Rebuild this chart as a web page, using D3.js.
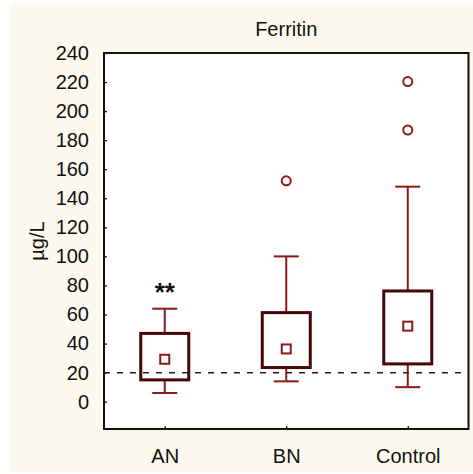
<!DOCTYPE html>
<html>
<head>
<meta charset="utf-8">
<script src="https://cdn.jsdelivr.net/npm/d3@7"></script>
<style>
	body { margin: 0; background: #fff; }
	svg text { font-family: "Liberation Sans", Arial, sans-serif; fill: #111; }
</style>
</head>
<body>
<svg id="chart"></svg>
<script>
// values
const groups = ["AN", "BN", "Control"];
const q1 = [15, 23.5, 26];
const q3 = [47, 61.3, 76.2];
const means = [29.2, 36.3, 52];
const whiskerLow = [6, 14, 10];
const whiskerHigh = [64, 100, 148];
const outliers = [[], [152], [187, 220.3]];
const yTicks = [0, 20, 40, 60, 80, 100, 120, 140, 160, 180, 200, 220, 240];
const refValue = 20;
const marks = ["**", "", ""];
const markValue = 80.5;

let w = 473, h = 474;
let plotLeft = 104, plotRight = 468.5, plotTop = 53, plotBottom = 429;

let chart = d3.select('#chart')
	.attr('width', w)
	.attr('height', h);

// beige frame
chart.append('rect')
	.attr('x', 10).attr('y', 4)
	.attr('width', 463).attr('height', 469)
	.attr('fill', '#fdf9ef');

chart.append('rect')
	.attr('x', plotLeft).attr('y', plotTop)
	.attr('width', plotRight - plotLeft).attr('height', plotBottom - plotTop)
	.attr('fill', '#fff');

let xScale = d3.scalePoint()
	.domain(groups)
	.range([plotLeft, plotRight])
	.padding(0.5);

let yScale = d3.scaleLinear()
	.domain([-18.8, 240])
	.range([plotBottom, plotTop]);

// AXES
let yAxis = d3.axisLeft(yScale).tickValues(yTicks).tickSize(-3).tickPadding(15);
let xAxis = d3.axisBottom(xScale).tickSize(-3).tickPadding(16);

let yAxisGroup = chart.append('g')
	.attr('transform', `translate(${plotLeft},0)`)
	.call(yAxis);

let xAxisGroup = chart.append('g')
	.attr('transform', `translate(0,${plotBottom})`)
	.call(xAxis);

[yAxisGroup, xAxisGroup].forEach(g => {
	g.select('.domain').remove();
	g.selectAll('line').attr('stroke', '#111').attr('stroke-width', 1.3);
	g.selectAll('text').style('font-size', '20px').attr('fill', '#111');
});
xAxisGroup.selectAll('text').attr('dy', '0.9em');

// frame
chart.append('rect')
	.attr('x', plotLeft).attr('y', plotTop)
	.attr('width', plotRight - plotLeft).attr('height', plotBottom - plotTop)
	.attr('fill', 'none')
	.attr('stroke', '#111')
	.attr('stroke-width', 2);

let boxW = 48, capW = 25;
let groupsG = chart.selectAll('.grp')
	.data(groups)
	.enter()
	.append('g')
	.attr('class', 'grp');

// whiskers
groupsG.append('line')
	.attr('x1', d => xScale(d)).attr('x2', d => xScale(d))
	.attr('y1', (d, i) => yScale(q3[i])).attr('y2', (d, i) => yScale(whiskerHigh[i]))
	.attr('stroke', '#8b1a1a').attr('stroke-width', 2);
groupsG.append('line')
	.attr('x1', d => xScale(d)).attr('x2', d => xScale(d))
	.attr('y1', (d, i) => yScale(q1[i])).attr('y2', (d, i) => yScale(whiskerLow[i]))
	.attr('stroke', '#8b1a1a').attr('stroke-width', 2);
groupsG.append('line')
	.attr('x1', d => xScale(d) - capW / 2).attr('x2', d => xScale(d) + capW / 2)
	.attr('y1', (d, i) => yScale(whiskerHigh[i])).attr('y2', (d, i) => yScale(whiskerHigh[i]))
	.attr('stroke', '#8b1a1a').attr('stroke-width', 2);
groupsG.append('line')
	.attr('x1', d => xScale(d) - capW / 2).attr('x2', d => xScale(d) + capW / 2)
	.attr('y1', (d, i) => yScale(whiskerLow[i])).attr('y2', (d, i) => yScale(whiskerLow[i]))
	.attr('stroke', '#8b1a1a').attr('stroke-width', 2);

// boxes
groupsG.append('rect')
	.attr('x', d => xScale(d) - boxW / 2)
	.attr('y', (d, i) => yScale(q3[i]))
	.attr('width', boxW)
	.attr('height', (d, i) => yScale(q1[i]) - yScale(q3[i]))
	.attr('fill', '#fff')
	.attr('stroke', '#4a0505')
	.attr('stroke-width', 3);

// means
groupsG.append('rect')
	.attr('x', d => xScale(d) - 4.5)
	.attr('y', (d, i) => yScale(means[i]) - 4.5)
	.attr('width', 9).attr('height', 9)
	.attr('fill', 'none')
	.attr('stroke', '#8b1a1a')
	.attr('stroke-width', 2);

// outliers
groupsG.selectAll('circle')
	.data((d, i) => outliers[i].map(v => ({ g: d, v: v })))
	.enter()
	.append('circle')
	.attr('cx', d => xScale(d.g))
	.attr('cy', d => yScale(d.v))
	.attr('r', 4.5)
	.attr('fill', 'none')
	.attr('stroke', '#8b1a1a')
	.attr('stroke-width', 2);

// significance marks
groupsG.append('text')
	.attr('x', d => xScale(d))
	.attr('y', yScale(markValue))
	.attr('dy', '0.62em')
	.style('text-anchor', 'middle')
	.style('font-size', '26px')
	.style('font-weight', 'bold')
	.text((d, i) => marks[i]);

// reference line
chart.append('line')
	.attr('x1', plotLeft).attr('x2', plotRight)
	.attr('y1', yScale(refValue)).attr('y2', yScale(refValue))
	.attr('stroke', '#222')
	.attr('stroke-width', 1.5)
	.attr('stroke-dasharray', '6,7');

// LABELS
chart.append('text')
	.attr('x', (plotLeft + plotRight) / 2)
	.attr('y', 36)
	.style('text-anchor', 'middle')
	.style('font-size', '20px')
	.text('Ferritin');

chart.append('text')
	.attr('transform', 'rotate(-90)')
	.attr('x', -(plotTop + plotBottom) / 2)
	.attr('y', 44)
	.style('text-anchor', 'middle')
	.style('font-size', '20px')
	.text('µg/L');
</script>
</body>
</html>
